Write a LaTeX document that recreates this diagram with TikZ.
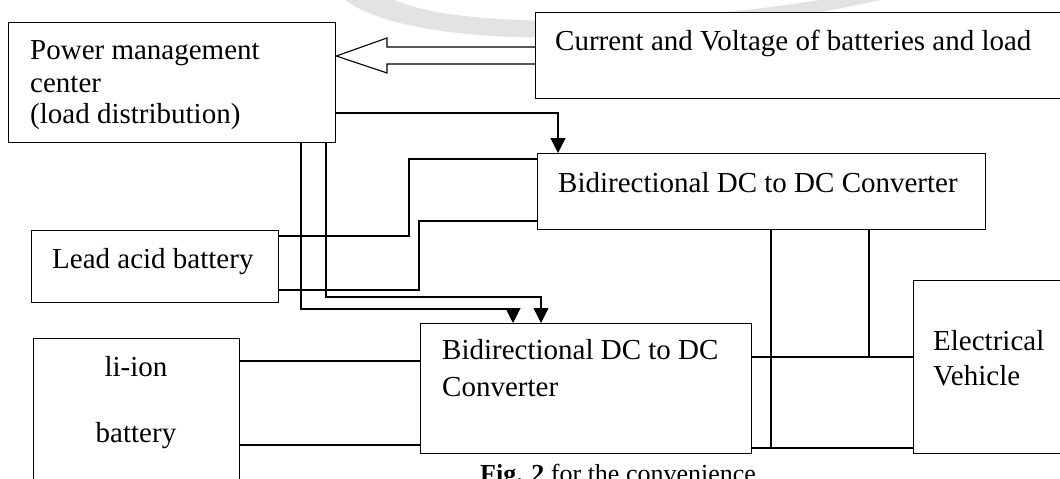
\documentclass[tikz,border=0pt]{standalone}
\usepackage{fontspec}
\setmainfont{Liberation Serif}
\usetikzlibrary{arrows.meta}
\begin{document}
\begin{tikzpicture}[x=1pt,y=-1pt,
  box/.style={draw, line width=1.3pt, inner sep=0pt, anchor=north west},
  wire/.style={line width=1.1pt},
  arr/.style={wire, -{Triangle[length=15pt,width=15pt]}},
  lbl/.style={anchor=base west, inner sep=0pt, font=\fontsize{29}{32}\selectfont},
  clbl/.style={anchor=base, inner sep=0pt, font=\fontsize{29}{32}\selectfont}]
\useasboundingbox (0,0) rectangle (1060,479);
\clip (0,0) rectangle (1060,479);
% faint watermark
\fill[gray!22] (345,0) .. controls (420,55) and (680,45) .. (880,0) -- (820,0) .. controls (660,25) and (460,30) .. (395,0) -- cycle;
% boxes
\node[box, minimum width=327pt, minimum height=120pt] (pmc) at (8,22) {};
\node[box, fill=white, minimum width=540pt, minimum height=86pt] (cur) at (535,12) {};
\node[box, minimum width=448pt, minimum height=76pt] (bd1) at (537,153) {};
\node[box, minimum width=247pt, minimum height=72pt] (lead) at (31,230) {};
\node[box, minimum width=206pt, minimum height=170pt] (li) at (33,338) {};
\node[box, minimum width=331pt, minimum height=130pt] (bd2) at (420,323) {};
\node[box, minimum width=170pt, minimum height=173pt] (ev) at (913,280) {};
% texts
\node[lbl] (t1) at (30,59) {Power management};
\node[lbl] (t2) at (30,92) {center};
\node[lbl] (t3) at (30,123) {(load distribution)};
\node[lbl] (t4) at (555,50) {Current and Voltage of batteries and load};
\node[lbl] (t5) at (558,192) {Bidirectional DC to DC Converter};
\node[lbl] (t6) at (52,268) {Lead acid battery};
\node[clbl] (t7) at (136,376) {li-ion};
\node[clbl] (t8) at (136,442) {battery};
\node[lbl] (t9) at (442,359) {Bidirectional DC to DC};
\node[lbl] (t10) at (442,396) {Converter};
\node[lbl] (t11) at (933,350) {Electrical};
\node[lbl] (t12) at (933,385) {Vehicle};
\node[anchor=base west, inner sep=0pt, font=\fontsize{26}{28}\selectfont] (cap) at (480,482) {\textbf{Fig. 2} for the convenience};
% hollow arrow from measurement box to power management center
\coordinate (ha1) at (535,47);
\coordinate (ha2) at (535,64);
\draw[wire, line join=miter] (cur.west |- ha1) -- (387,47) -- (387,38) -- (pmc.east |- 0,56) -- (387,73) -- (387,64) -- (cur.west |- ha2);
% control to bd1
\coordinate (c1) at (558,113);
\draw[arr] (pmc.east |- c1) -- (c1) -- (bd1.north -| c1);
% control to bd2
\coordinate (p1a) at (301,142);
\coordinate (p1b) at (301,309);
\coordinate (p1c) at (513,309);
\draw[arr] (p1a) -- (p1b) -- (p1c) -- (bd2.north -| p1c);
\coordinate (p2a) at (326,142);
\coordinate (p2b) at (326,297);
\coordinate (p2c) at (541,297);
\draw[arr] (p2a) -- (p2b) -- (p2c) -- (bd2.north -| p2c);
% lead acid to bd1
\coordinate (k1) at (409,236);
\coordinate (k2) at (409,159);
\draw[wire] (lead.east |- k1) -- (k1) -- (k2) -- (bd1.west |- k2);
\coordinate (k3) at (419,290);
\coordinate (k4) at (419,221);
\draw[wire] (lead.east |- k3) -- (k3) -- (k4) -- (bd1.west |- k4);
% li-ion to bd2
\coordinate (m1) at (300,361);
\coordinate (m2) at (300,445);
\draw[wire] (li.east |- m1) -- (bd2.west |- m1);
\draw[wire] (li.east |- m2) -- (bd2.west |- m2);
% bd2 to ev
\coordinate (e1) at (771,357);
\coordinate (e2) at (771,448);
\draw[wire] (bd2.east |- e1) -- (ev.west |- e1);
\draw[wire] (bd2.east |- e2) -- (ev.west |- e2);
% bd1 to bus
\coordinate (b1) at (771,300);
\coordinate (b2) at (869,357);
\draw[wire] (bd1.south -| b1) -- (e2);
\draw[wire] (bd1.south -| b2) -- (b2);
\end{tikzpicture}
\end{document}
